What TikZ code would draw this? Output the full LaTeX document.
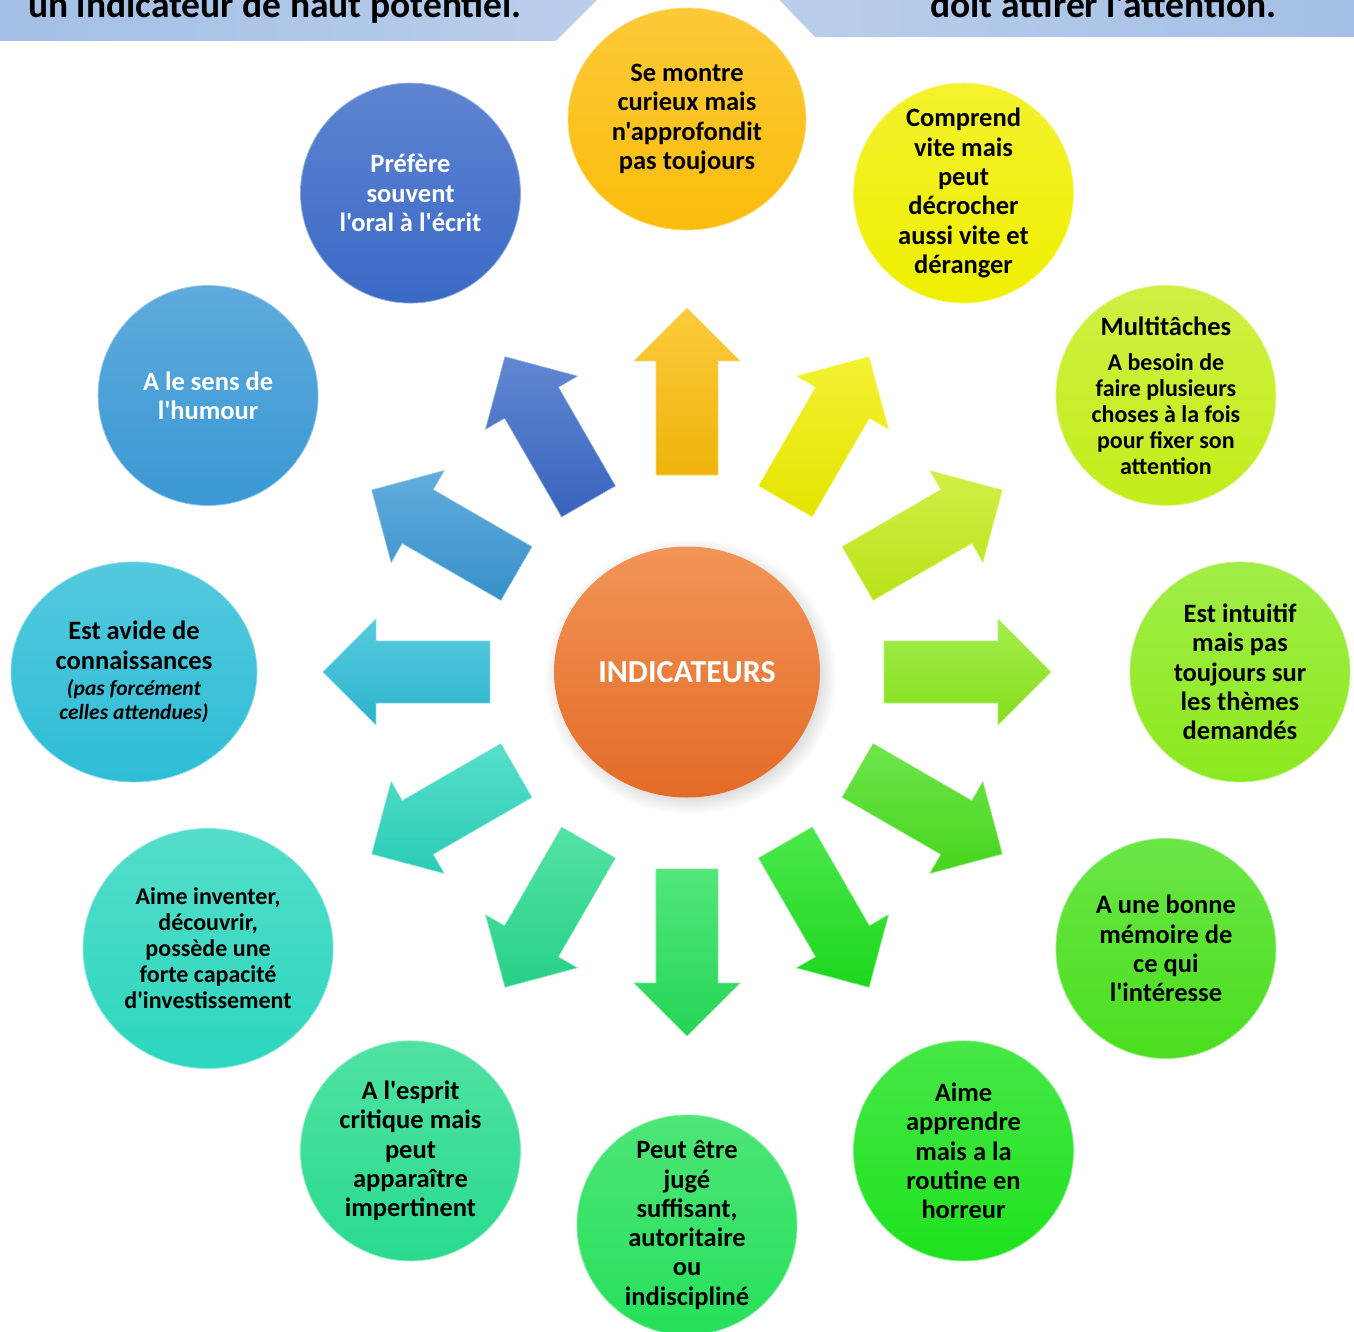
\documentclass[tikz,border=0pt]{standalone}
\usepackage{fontspec}
\setmainfont{Carlito}[Ligatures=TeXOff]
\usetikzlibrary{shapes.geometric,shadows}

\definecolor{cOr}{HTML}{FBBD0C}
\definecolor{cJaune}{HTML}{F0EF00}
\definecolor{cAnis}{HTML}{C3ED1A}
\definecolor{cLime}{HTML}{8CE91E}
\definecolor{cVert}{HTML}{4ADF1E}
\definecolor{cPre}{HTML}{1EE21E}
\definecolor{cMenthe}{HTML}{26E05A}
\definecolor{cJade}{HTML}{29DB8E}
\definecolor{cTurq}{HTML}{2DD6BE}
\definecolor{cCyan}{HTML}{2EBDD6}
\definecolor{cCiel}{HTML}{3A98D4}
\definecolor{cBleu}{HTML}{3A69C6}
\definecolor{cOrange}{HTML}{EE7A2C}
\definecolor{cBande}{HTML}{A3BFE5}

\newcommand\gros{\fontsize{26.5}{29.3}\selectfont\bfseries}
\newcommand\petit{\fontsize{24}{26}\selectfont\bfseries}
\newcommand\remarque{\fontsize{21.5}{24}\selectfont\bfseries\itshape}

\tikzset{
  bulle/.style={ellipse, minimum width=220pt, minimum height=220pt, inner sep=-30pt,
    align=center, font=\gros, top color=#1!82!white, bottom color=#1,
    draw=#1!55!white, line width=0.8pt},
  fleche/.style={top color=#1!80!white, bottom color=#1!95!black, draw=#1!60!white, line width=0.6pt}
}

\begin{document}
\begin{tikzpicture}[x=1pt,y=1pt]
  \useasboundingbox (-687,-659) rectangle (667,672);
  \clip (-687,-659) rectangle (667,672);

  % bandeau du haut
  \shade[left color=cBande, right color=cBande!75!white] (-687,631) -- (-131,631) -- (-80,682) -- (-687,682) -- cycle;
  \shade[left color=cBande!75!white, right color=cBande] (128,635) -- (83,682) -- (667,682) -- (667,635) -- cycle;
  \node[anchor=base west, inner sep=0pt, font=\fontsize{37.5}{40}\selectfont\bfseries] (bandeauG) at (-659,654) {un indicateur de haut potentiel.};
  \node[anchor=base east, inner sep=0pt, font=\fontsize{37.5}{40}\selectfont\bfseries] (bandeauD) at (590,654) {doit attirer l'attention.};

  % fleches
  \foreach \ang/\col in {90/cOr,60/cJaune,30/cAnis,0/cLime,-30/cVert,-60/cPre,-90/cMenthe,-120/cJade,-150/cTurq,180/cCyan,150/cCiel,120/cBleu}
    \shade[fleche=\col, rotate=\ang] (197,-31) -- (311,-31) -- (311,-53) -- (364,0) -- (311,53) -- (311,31) -- (197,31) -- cycle;

  % centre
  \node[ellipse, minimum width=266pt, minimum height=251pt, inner sep=0pt,
    top color=cOrange!80!white, bottom color=cOrange!92!red!95!black,
    circular drop shadow={shadow xshift=3pt, shadow yshift=-4pt, opacity=.3},
    text=white, font=\fontsize{32}{34}\selectfont\bfseries] (ind) at (0,0) {INDICATEURS};

  % bulles
  \node[bulle=cOr, minimum width=238pt, minimum height=222pt] (curieux) at (90:553) {Se montre\\curieux mais\\n'approfondit\\pas toujours};
  \node[bulle=cJaune] (comprend) at (60:553) {Comprend\\vite mais\\peut\\décrocher\\aussi vite et\\déranger};
  \node[bulle=cAnis, font=\petit] (multi) at (30:553) {\gros Multitâches\\[9pt]A besoin de\\faire plusieurs\\choses à la fois\\pour fixer son\\attention};
  \node[bulle=cLime] (intuitif) at (0:553) {Est intuitif\\mais pas\\toujours sur\\les thèmes\\demandés};
  \node[bulle=cVert] (memoire) at (-30:553) {A une bonne\\mémoire de\\ce qui\\l'intéresse};
  \node[bulle=cPre] (routine) at (-60:553) {Aime\\apprendre\\mais a la\\routine en\\horreur};
  \node[bulle=cMenthe] (juge) at (-90:553) {Peut être\\jugé\\suffisant,\\autoritaire\\ou\\indiscipliné};
  \node[bulle=cJade] (critique) at (-120:553) {A l'esprit\\critique mais\\peut\\apparaître\\impertinent};
  \node[bulle=cTurq, minimum width=250pt, minimum height=240pt, font=\petit] (inventer) at (-150:553) {Aime inventer,\\découvrir,\\possède une\\forte capacité\\d'investissement};
  \node[bulle=cCyan, minimum width=246pt] (avide) at (180:553) {Est avide de\\connaissances\\[-3pt]{\remarque (pas forcément}\\[-5pt]{\remarque celles attendues)}};
  \node[bulle=cCiel, text=white] (humour) at (150:553) {A le sens de\\l'humour};
  \node[bulle=cBleu, text=white] (oral) at (120:553) {Préfère\\souvent\\l'oral à l'écrit};
\end{tikzpicture}
\end{document}
